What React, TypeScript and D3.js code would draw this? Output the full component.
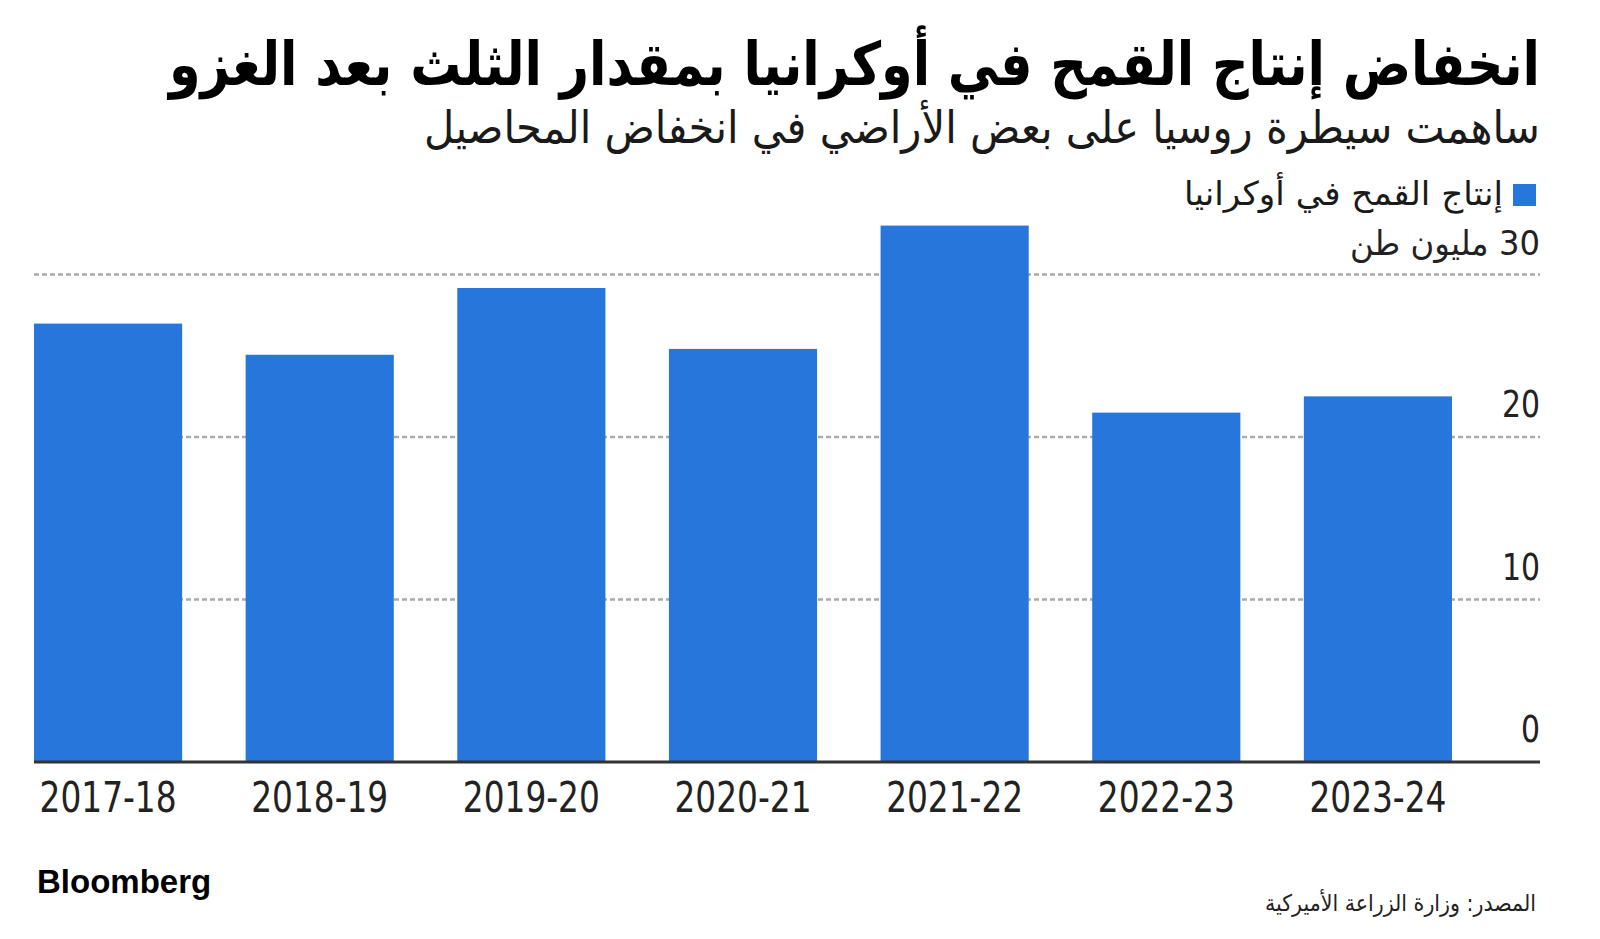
import { useEffect, useRef } from "react";
import * as d3 from "d3";

// Ukraine wheat production, million tonnes (USDA)
const seasons = ["2017-18", "2018-19", "2019-20", "2020-21", "2021-22", "2022-23", "2023-24"];
const production = [26.98, 25.06, 29.17, 25.42, 33.01, 21.5, 22.5];
const yTicks = [0, 10, 20, 30];

const TITLE = "انخفاض إنتاج القمح في أوكرانيا بمقدار الثلث بعد الغزو";
const SUBTITLE = "ساهمت سيطرة روسيا على بعض الأراضي في انخفاض المحاصيل";
const LEGEND = "إنتاج القمح في أوكرانيا";
const UNIT = "مليون طن";
const SOURCE = "المصدر: وزارة الزراعة الأميركية";

const W = 1600;
const H = 939;
const LEFT = 34;
const RIGHT = 1540;
const BASE = 762;
const TOP30 = 274.5;
const BLUE = "#2676dc";
const AR = "DejaVu Sans, sans-serif";
const NUM = "DejaVu Sans Condensed, sans-serif";

export default function App() {
  const svgRef = useRef<SVGSVGElement | null>(null);

  useEffect(() => {
    document.body.style.margin = "0";
    if (!svgRef.current) return;
    const svg = d3.select(svgRef.current);
    svg.selectAll("*").remove();

    const x = d3.scaleBand<string>()
      .domain(seasons)
      .range([LEFT, 1452])
      .paddingInner(0.3)
      .paddingOuter(0);
    const y = d3.scaleLinear().domain([0, 30]).range([BASE, TOP30]);

    // headline + subtitle
    svg.append("text")
      .attr("x", RIGHT).attr("y", 85)
      .attr("direction", "rtl").attr("text-anchor", "start")
      .attr("font-family", AR).attr("font-weight", 700).attr("font-size", 60)
      .attr("textLength", 1371).attr("lengthAdjust", "spacingAndGlyphs")
      .attr("fill", "#000")
      .text(TITLE);
    svg.append("text")
      .attr("x", RIGHT).attr("y", 143)
      .attr("direction", "rtl").attr("text-anchor", "start")
      .attr("font-family", AR).attr("font-size", 45)
      .attr("textLength", 1116).attr("lengthAdjust", "spacingAndGlyphs")
      .attr("fill", "#1a1a1a")
      .text(SUBTITLE);

    // legend
    svg.append("rect")
      .attr("x", 1513).attr("y", 184).attr("width", 23).attr("height", 22)
      .attr("fill", BLUE);
    svg.append("text")
      .attr("x", 1503).attr("y", 205)
      .attr("direction", "rtl").attr("text-anchor", "start")
      .attr("font-family", AR).attr("font-size", 33)
      .attr("textLength", 319).attr("lengthAdjust", "spacingAndGlyphs")
      .attr("fill", "#1a1a1a")
      .text(LEGEND);

    // gridlines
    svg.append("g")
      .selectAll("line")
      .data(yTicks.filter((t) => t > 0))
      .join("line")
      .attr("x1", LEFT).attr("x2", RIGHT)
      .attr("y1", (d) => y(d)).attr("y2", (d) => y(d))
      .attr("stroke", "#ababab")
      .attr("stroke-width", 2.5)
      .attr("stroke-dasharray", "5 3");

    // bars
    svg.append("g")
      .selectAll("rect")
      .data(production)
      .join("rect")
      .attr("x", (_, i) => x(seasons[i]) ?? 0)
      .attr("y", (d) => y(d))
      .attr("width", x.bandwidth())
      .attr("height", (d) => BASE - y(d))
      .attr("fill", BLUE);

    // baseline
    svg.append("line")
      .attr("x1", LEFT).attr("x2", RIGHT)
      .attr("y1", BASE).attr("y2", BASE)
      .attr("stroke", "#333").attr("stroke-width", 3);

    // y tick labels
    svg.append("g")
      .selectAll("text")
      .data(yTicks)
      .join("text")
      .attr("x", RIGHT)
      .attr("y", (d) => y(d) - 20)
      .attr("direction", "rtl").attr("text-anchor", "start")
      .attr("font-family", (d) => (d === 30 ? AR : NUM))
      .attr("font-size", (d) => (d === 30 ? 34 : 37))
      .attr("textLength", (d) => (d === 30 ? 190 : d === 0 ? 19 : 38))
      .attr("lengthAdjust", "spacingAndGlyphs")
      .attr("fill", "#222")
      .text((d) => (d === 30 ? `${d} ${UNIT}` : String(d)));

    // x tick labels
    svg.append("g")
      .selectAll("text")
      .data(seasons)
      .join("text")
      .attr("x", (d) => (x(d) ?? 0) + x.bandwidth() / 2)
      .attr("y", 812)
      .attr("text-anchor", "middle")
      .attr("font-family", NUM)
      .attr("font-size", 42)
      .attr("textLength", 137)
      .attr("lengthAdjust", "spacingAndGlyphs")
      .attr("fill", "#222")
      .text((d) => d);

    // footer
    svg.append("text")
      .attr("x", 37).attr("y", 893)
      .attr("font-family", "Liberation Sans, Arial, sans-serif")
      .attr("font-weight", 700).attr("font-size", 33)
      .attr("fill", "#000")
      .text("Bloomberg");
    svg.append("text")
      .attr("x", 1536).attr("y", 911)
      .attr("direction", "rtl").attr("text-anchor", "start")
      .attr("font-family", AR).attr("font-size", 23)
      .attr("textLength", 271).attr("lengthAdjust", "spacingAndGlyphs")
      .attr("fill", "#222")
      .text(SOURCE);
  }, []);

  return (
    <svg
      ref={svgRef}
      width={W}
      height={H}
      viewBox={`0 0 ${W} ${H}`}
      style={{ display: "block", background: "#fff" }}
    />
  );
}
